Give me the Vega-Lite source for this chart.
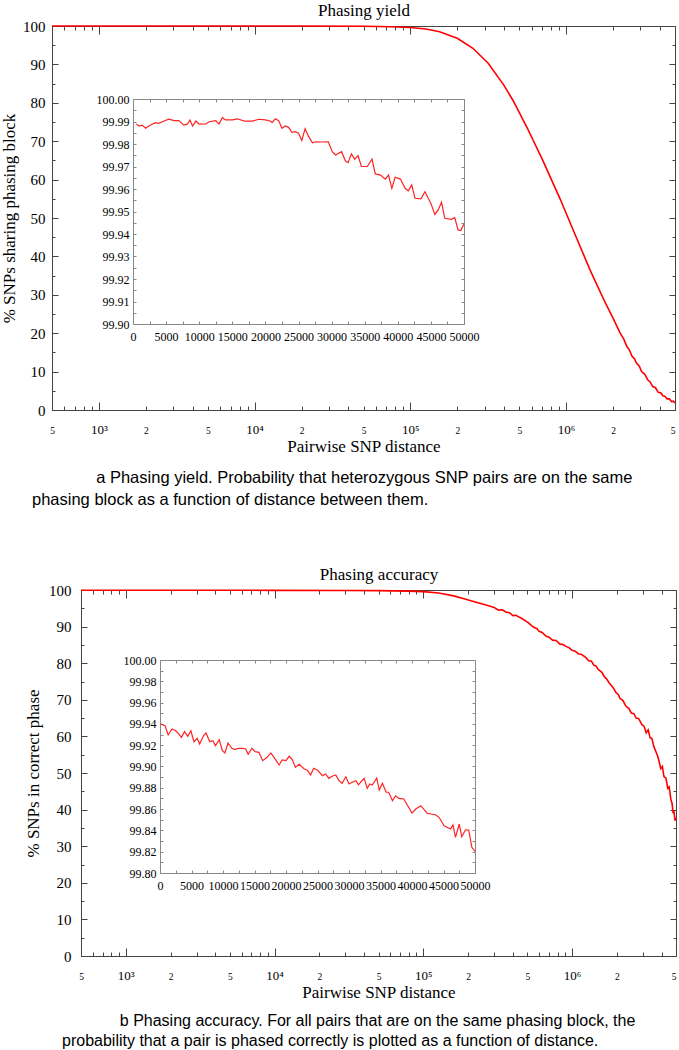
{
  "$schema": "https://vega.github.io/schema/vega-lite/v6.json",
  "background": "white",
  "padding": {"left": 0, "top": 1, "right": 0, "bottom": 0},
  "autosize": {"type": "pad"},
  "spacing": 56,
  "config": {
    "view": {"stroke": null},
    "axis": {"grid": false, "labelFont": "Liberation Serif", "titleFont": "Liberation Serif", "labelColor": "#000", "titleColor": "#000", "titleFontWeight": "normal", "labelFlush": false, "labelOverlap": false, "domainColor": "#444", "tickColor": "#444", "zindex": 0},
    "title": {"font": "Liberation Sans", "fontWeight": "normal", "color": "#000"}
  },
  "datasets": {
    "yieldMain": [
      {"distance": 500, "percent": 99.99}, {"distance": 700, "percent": 99.99}, {"distance": 1000, "percent": 99.99}, {"distance": 2000, "percent": 99.99}, {"distance": 5000, "percent": 99.99}, {"distance": 10000, "percent": 99.99}, {"distance": 20000, "percent": 99.985}, {"distance": 50000, "percent": 99.94}, {"distance": 75000, "percent": 99.8}, {"distance": 100000, "percent": 99.6}, {"distance": 126000, "percent": 99.2}, {"distance": 154000, "percent": 98.5}, {"distance": 200000, "percent": 96.8}, {"distance": 252000, "percent": 94.2}, {"distance": 316000, "percent": 90.3}, {"distance": 398000, "percent": 84.6}, {"distance": 456000, "percent": 80.6}, {"distance": 562000, "percent": 73.5}, {"distance": 708000, "percent": 65.0}, {"distance": 914000, "percent": 55.0}, {"distance": 1120000, "percent": 46.5}, {"distance": 1423000, "percent": 36.5}, {"distance": 1780000, "percent": 28.0}, {"distance": 2000000, "percent": 23.9}, {"distance": 2218000, "percent": 20.1}, {"distance": 2350000, "percent": 18.4}, {"distance": 2450000, "percent": 16.6}, {"distance": 2550000, "percent": 15.6}, {"distance": 2650000, "percent": 14.0}, {"distance": 2750000, "percent": 13.3}, {"distance": 2820000, "percent": 12.3}, {"distance": 2950000, "percent": 11.4}, {"distance": 3050000, "percent": 10.0}, {"distance": 3200000, "percent": 9.3}, {"distance": 3350000, "percent": 7.8}, {"distance": 3460000, "percent": 7.3}, {"distance": 3600000, "percent": 6.1}, {"distance": 3750000, "percent": 5.8}, {"distance": 3900000, "percent": 4.6}, {"distance": 4050000, "percent": 4.5}, {"distance": 4170000, "percent": 3.7}, {"distance": 4300000, "percent": 3.6}, {"distance": 4450000, "percent": 2.9}, {"distance": 4600000, "percent": 2.9}, {"distance": 4750000, "percent": 2.2}, {"distance": 4880000, "percent": 2.3}, {"distance": 5000000, "percent": 1.8}
    ],
    "yieldInset": [
      {"distance": 500, "percent": 99.9889}, {"distance": 900, "percent": 99.988}, {"distance": 1400, "percent": 99.9884}, {"distance": 1900, "percent": 99.987}, {"distance": 2400, "percent": 99.988}, {"distance": 2900, "percent": 99.9888}, {"distance": 3400, "percent": 99.9895}, {"distance": 3900, "percent": 99.9892}, {"distance": 4700, "percent": 99.9902}, {"distance": 5400, "percent": 99.991}, {"distance": 6200, "percent": 99.9904}, {"distance": 6900, "percent": 99.9904}, {"distance": 7700, "percent": 99.9884}, {"distance": 8200, "percent": 99.9888}, {"distance": 8600, "percent": 99.9907}, {"distance": 9000, "percent": 99.988}, {"distance": 9500, "percent": 99.9902}, {"distance": 10000, "percent": 99.9888}, {"distance": 11000, "percent": 99.9889}, {"distance": 11500, "percent": 99.9899}, {"distance": 12500, "percent": 99.9904}, {"distance": 13000, "percent": 99.9889}, {"distance": 13500, "percent": 99.9917}, {"distance": 14000, "percent": 99.9907}, {"distance": 15000, "percent": 99.9907}, {"distance": 15800, "percent": 99.9912}, {"distance": 16800, "percent": 99.9902}, {"distance": 18000, "percent": 99.9902}, {"distance": 19000, "percent": 99.991}, {"distance": 20000, "percent": 99.9907}, {"distance": 20800, "percent": 99.9901}, {"distance": 21000, "percent": 99.9895}, {"distance": 21500, "percent": 99.9912}, {"distance": 22000, "percent": 99.9904}, {"distance": 22500, "percent": 99.987}, {"distance": 23000, "percent": 99.988}, {"distance": 23500, "percent": 99.9874}, {"distance": 24000, "percent": 99.9852}, {"distance": 24500, "percent": 99.9855}, {"distance": 25000, "percent": 99.9848}, {"distance": 25500, "percent": 99.9816}, {"distance": 26000, "percent": 99.9868}, {"distance": 26500, "percent": 99.9835}, {"distance": 27100, "percent": 99.9805}, {"distance": 27600, "percent": 99.981}, {"distance": 28600, "percent": 99.9809}, {"distance": 29500, "percent": 99.981}, {"distance": 30100, "percent": 99.9766}, {"distance": 30600, "percent": 99.9751}, {"distance": 31500, "percent": 99.9766}, {"distance": 32100, "percent": 99.9724}, {"distance": 32500, "percent": 99.9717}, {"distance": 33000, "percent": 99.9756}, {"distance": 33500, "percent": 99.9732}, {"distance": 34000, "percent": 99.9748}, {"distance": 34500, "percent": 99.97}, {"distance": 35400, "percent": 99.97}, {"distance": 36100, "percent": 99.9733}, {"distance": 36600, "percent": 99.9667}, {"distance": 37400, "percent": 99.9662}, {"distance": 38100, "percent": 99.9644}, {"distance": 38600, "percent": 99.9662}, {"distance": 39100, "percent": 99.9603}, {"distance": 39600, "percent": 99.9652}, {"distance": 40400, "percent": 99.9644}, {"distance": 41100, "percent": 99.9603}, {"distance": 41600, "percent": 99.9592}, {"distance": 42100, "percent": 99.9618}, {"distance": 42600, "percent": 99.9559}, {"distance": 43500, "percent": 99.9556}, {"distance": 44100, "percent": 99.9588}, {"distance": 45000, "percent": 99.9536}, {"distance": 45600, "percent": 99.9487}, {"distance": 46100, "percent": 99.9507}, {"distance": 46600, "percent": 99.9541}, {"distance": 47100, "percent": 99.947}, {"distance": 48100, "percent": 99.9465}, {"distance": 48600, "percent": 99.9473}, {"distance": 49100, "percent": 99.9418}, {"distance": 49500, "percent": 99.9415}, {"distance": 50000, "percent": 99.9444}
    ],
    "accuracyMain": [
      {"distance": 500, "percent": 99.94}, {"distance": 1000, "percent": 99.94}, {"distance": 3000, "percent": 99.93}, {"distance": 10000, "percent": 99.91}, {"distance": 30000, "percent": 99.88}, {"distance": 50000, "percent": 99.82}, {"distance": 80000, "percent": 99.7}, {"distance": 100000, "percent": 99.55}, {"distance": 127000, "percent": 99.2}, {"distance": 160000, "percent": 98.4}, {"distance": 193000, "percent": 97.5}, {"distance": 230000, "percent": 96.6}, {"distance": 264000, "percent": 95.9}, {"distance": 300000, "percent": 95.2}, {"distance": 320000, "percent": 94.5}, {"distance": 340000, "percent": 94.6}, {"distance": 359000, "percent": 94.0}, {"distance": 380000, "percent": 93.8}, {"distance": 400000, "percent": 93.0}, {"distance": 420000, "percent": 93.1}, {"distance": 440000, "percent": 92.6}, {"distance": 460000, "percent": 92.2}, {"distance": 490000, "percent": 91.5}, {"distance": 510000, "percent": 91.0}, {"distance": 537000, "percent": 90.2}, {"distance": 560000, "percent": 89.7}, {"distance": 580000, "percent": 89.5}, {"distance": 600000, "percent": 88.7}, {"distance": 630000, "percent": 88.4}, {"distance": 667000, "percent": 87.4}, {"distance": 700000, "percent": 87.1}, {"distance": 740000, "percent": 86.3}, {"distance": 780000, "percent": 86.2}, {"distance": 830000, "percent": 85.2}, {"distance": 870000, "percent": 85.1}, {"distance": 910000, "percent": 84.6}, {"distance": 960000, "percent": 84.2}, {"distance": 1000000, "percent": 83.5}, {"distance": 1050000, "percent": 83.3}, {"distance": 1100000, "percent": 82.6}, {"distance": 1160000, "percent": 82.4}, {"distance": 1239000, "percent": 81.5}, {"distance": 1300000, "percent": 80.6}, {"distance": 1350000, "percent": 80.6}, {"distance": 1400000, "percent": 79.5}, {"distance": 1450000, "percent": 79.2}, {"distance": 1500000, "percent": 78.3}, {"distance": 1588000, "percent": 77.5}, {"distance": 1650000, "percent": 76.3}, {"distance": 1700000, "percent": 75.8}, {"distance": 1780000, "percent": 74.6}, {"distance": 1850000, "percent": 73.8}, {"distance": 1900000, "percent": 73.2}, {"distance": 1972000, "percent": 72.0}, {"distance": 2050000, "percent": 71.4}, {"distance": 2100000, "percent": 70.4}, {"distance": 2200000, "percent": 69.8}, {"distance": 2300000, "percent": 68.3}, {"distance": 2413000, "percent": 67.6}, {"distance": 2500000, "percent": 66.4}, {"distance": 2600000, "percent": 66.2}, {"distance": 2700000, "percent": 65.0}, {"distance": 2800000, "percent": 64.9}, {"distance": 2951000, "percent": 63.2}, {"distance": 3050000, "percent": 62.8}, {"distance": 3150000, "percent": 61.0}, {"distance": 3250000, "percent": 61.8}, {"distance": 3350000, "percent": 59.6}, {"distance": 3444000, "percent": 59.4}, {"distance": 3550000, "percent": 57.2}, {"distance": 3650000, "percent": 56.0}, {"distance": 3750000, "percent": 54.8}, {"distance": 3838000, "percent": 53.4}, {"distance": 3950000, "percent": 51.2}, {"distance": 4050000, "percent": 51.8}, {"distance": 4150000, "percent": 49.0}, {"distance": 4282000, "percent": 48.6}, {"distance": 4400000, "percent": 45.8}, {"distance": 4500000, "percent": 46.2}, {"distance": 4625000, "percent": 42.6}, {"distance": 4700000, "percent": 41.8}, {"distance": 4780000, "percent": 39.0}, {"distance": 4842000, "percent": 39.6}, {"distance": 4920000, "percent": 37.0}, {"distance": 5000000, "percent": 37.8}
    ],
    "accuracyInset": [
      {"distance": 100, "percent": 99.9399}, {"distance": 800, "percent": 99.9383}, {"distance": 1300, "percent": 99.9296}, {"distance": 1900, "percent": 99.9352}, {"distance": 2500, "percent": 99.9336}, {"distance": 3000, "percent": 99.9305}, {"distance": 3400, "percent": 99.9274}, {"distance": 3900, "percent": 99.9327}, {"distance": 4400, "percent": 99.9283}, {"distance": 4900, "percent": 99.9336}, {"distance": 5400, "percent": 99.9233}, {"distance": 5900, "percent": 99.9265}, {"distance": 6300, "percent": 99.9211}, {"distance": 6900, "percent": 99.9289}, {"distance": 7300, "percent": 99.9315}, {"distance": 7900, "percent": 99.9233}, {"distance": 8400, "percent": 99.9242}, {"distance": 8800, "percent": 99.9195}, {"distance": 9400, "percent": 99.9252}, {"distance": 9900, "percent": 99.9148}, {"distance": 10300, "percent": 99.9127}, {"distance": 10800, "percent": 99.9221}, {"distance": 11400, "percent": 99.9171}, {"distance": 11900, "percent": 99.9158}, {"distance": 12400, "percent": 99.9171}, {"distance": 13100, "percent": 99.9171}, {"distance": 13600, "percent": 99.9164}, {"distance": 14000, "percent": 99.9115}, {"distance": 14600, "percent": 99.9171}, {"distance": 15100, "percent": 99.9139}, {"distance": 15700, "percent": 99.9133}, {"distance": 16300, "percent": 99.9055}, {"distance": 17000, "percent": 99.9086}, {"distance": 17600, "percent": 99.9127}, {"distance": 18100, "percent": 99.9086}, {"distance": 18900, "percent": 99.9014}, {"distance": 19400, "percent": 99.9061}, {"distance": 20000, "percent": 99.9055}, {"distance": 20500, "percent": 99.9096}, {"distance": 21000, "percent": 99.9064}, {"distance": 21500, "percent": 99.8992}, {"distance": 22100, "percent": 99.902}, {"distance": 22900, "percent": 99.8977}, {"distance": 23400, "percent": 99.8965}, {"distance": 23900, "percent": 99.892}, {"distance": 24400, "percent": 99.8983}, {"distance": 25000, "percent": 99.8965}, {"distance": 25800, "percent": 99.8914}, {"distance": 26300, "percent": 99.893}, {"distance": 26800, "percent": 99.8889}, {"distance": 27300, "percent": 99.8908}, {"distance": 27900, "percent": 99.892}, {"distance": 28400, "percent": 99.8867}, {"distance": 28900, "percent": 99.8842}, {"distance": 29500, "percent": 99.8904}, {"distance": 30000, "percent": 99.8836}, {"distance": 30500, "percent": 99.8852}, {"distance": 31100, "percent": 99.8867}, {"distance": 31500, "percent": 99.8829}, {"distance": 32400, "percent": 99.8889}, {"distance": 32900, "percent": 99.8795}, {"distance": 33300, "percent": 99.8836}, {"distance": 33700, "percent": 99.8826}, {"distance": 34400, "percent": 99.8892}, {"distance": 34800, "percent": 99.8779}, {"distance": 35300, "percent": 99.8842}, {"distance": 35900, "percent": 99.8758}, {"distance": 36300, "percent": 99.8758}, {"distance": 36900, "percent": 99.8679}, {"distance": 37400, "percent": 99.8725}, {"distance": 37900, "percent": 99.8701}, {"distance": 38700, "percent": 99.8695}, {"distance": 40000, "percent": 99.8563}, {"distance": 40600, "percent": 99.8601}, {"distance": 41400, "percent": 99.8632}, {"distance": 42400, "percent": 99.8561}, {"distance": 43700, "percent": 99.8547}, {"distance": 44300, "percent": 99.8523}, {"distance": 45100, "percent": 99.8444}, {"distance": 46100, "percent": 99.8413}, {"distance": 46500, "percent": 99.8451}, {"distance": 46900, "percent": 99.8335}, {"distance": 47500, "percent": 99.846}, {"distance": 47900, "percent": 99.834}, {"distance": 48500, "percent": 99.8406}, {"distance": 49000, "percent": 99.8404}, {"distance": 49500, "percent": 99.8241}, {"distance": 50000, "percent": 99.8204}
    ]
  },
  "vconcat": [
    {
      "width": 623,
      "height": 384,
      "title": {"text": ["\u200b\u00a0\u00a0\u00a0\u00a0\u00a0\u00a0\u00a0\u00a0\u00a0\u00a0\u00a0\u00a0\u00a0\u00a0a Phasing yield. Probability that heterozygous SNP pairs are on the same", "phasing block as a function of distance between them."], "orient": "bottom", "anchor": "start", "frame": "group", "dx": -20, "fontSize": 16.5, "lineHeight": 22, "offset": 16},
      "resolve": {"scale": {"x": "independent", "y": "independent"}},
      "layer": [
        {
          "data": {"name": "yieldMain"},
          "mark": {"type": "line", "color": "#ff0000", "strokeWidth": 1.6},
          "encoding": {
            "x": {"field": "distance", "type": "quantitative", "scale": {"type": "log", "domain": [500, 5000000], "nice": false},
              "axis": {"orient": "bottom", "values": [500,600,700,800,900,1000,2000,3000,4000,5000,6000,7000,8000,9000,10000,20000,30000,40000,50000,60000,70000,80000,90000,100000,200000,300000,400000,500000,600000,700000,800000,900000,1000000,2000000,3000000,4000000,5000000],
                "labelExpr": "datum.value==1000?'10³':datum.value==10000?'10⁴':datum.value==100000?'10⁵':datum.value==1000000?'10⁶':indexof([500,5000,50000,500000,5000000],datum.value)>=0?'5':indexof([2000,20000,200000,2000000],datum.value)>=0?'2':''",
                "labelBaseline": "alphabetic",
                "labelAlign": {"condition": {"test": "datum.value==5000000", "value": "right"}, "value": "center"},
                "labelFontSize": {"condition": {"test": "datum.value==1000||datum.value==10000||datum.value==100000||datum.value==1000000", "value": 13}, "value": 9.5},
                "tickSize": {"condition": {"test": "datum.value==1000||datum.value==10000||datum.value==100000||datum.value==1000000", "value": -8}, "value": -4},
                "labelPadding": {"condition": {"test": "datum.value==1000||datum.value==10000||datum.value==100000||datum.value==1000000", "value": 31}, "value": 27},
                "title": "Pairwise SNP distance", "titleFontSize": 17, "titlePadding": 2}},
            "y": {"field": "percent", "type": "quantitative", "scale": {"domain": [0, 100], "nice": false, "zero": false},
              "axis": {"orient": "left", "values": [0,5,10,15,20,25,30,35,40,45,50,55,60,65,70,75,80,85,90,95,100],
                "labelExpr": "datum.value%10==0?format(datum.value,'d'):''", "labelFontSize": 15,
                "tickSize": {"condition": {"test": "datum.value%10==0", "value": -6}, "value": -3},
                "labelPadding": 13, "title": "% SNPs sharing phasing block", "titleFontSize": 17, "titlePadding": 4}}
          }
        },
        {
          "data": {"name": "yieldMain"},
          "mark": {"type": "line", "strokeOpacity": 0},
          "encoding": {
            "x": {"field": "distance", "type": "quantitative", "scale": {"type": "log", "domain": [500, 5000000], "nice": false},
              "axis": {"orient": "top", "values": [500,600,700,800,900,1000,2000,3000,4000,5000,6000,7000,8000,9000,10000,20000,30000,40000,50000,60000,70000,80000,90000,100000,200000,300000,400000,500000,600000,700000,800000,900000,1000000,2000000,3000000,4000000,5000000],
                "labels": false,
                "tickSize": {"condition": {"test": "datum.value==1000||datum.value==10000||datum.value==100000||datum.value==1000000", "value": -8}, "value": -4},
                "title": "Phasing yield", "titleFontSize": 17, "titlePadding": 6}},
            "y": {"field": "percent", "type": "quantitative", "scale": {"domain": [0, 100], "nice": false, "zero": false},
              "axis": {"orient": "right", "values": [0,5,10,15,20,25,30,35,40,45,50,55,60,65,70,75,80,85,90,95,100], "labels": false,
                "tickSize": {"condition": {"test": "datum.value%10==0", "value": -6}, "value": -3}, "title": null}}
          }
        },
        {
          "data": {"name": "yieldInset"},
          "mark": {"type": "line", "color": "#ff2222", "strokeWidth": 1.2},
          "encoding": {
            "x": {"field": "distance", "type": "quantitative", "scale": {"domain": [0, 50000], "range": [81, 412], "nice": false, "zero": false},
              "axis": {"orient": "bottom", "offset": -86, "values": [0,2500,5000,7500,10000,12500,15000,17500,20000,22500,25000,27500,30000,32500,35000,37500,40000,42500,45000,47500,50000],
                "labelExpr": "datum.value%5000==0?format(datum.value,'d'):''", "labelFontSize": 12, "tickSize": -3, "labelPadding": 10, "title": null, "domainColor": "#888", "tickColor": "#888"}},
            "y": {"field": "percent", "type": "quantitative", "scale": {"domain": [99.9, 100], "range": [298, 73], "nice": false, "zero": false},
              "axis": {"orient": "left", "offset": -81, "values": [99.9,99.905,99.91,99.915,99.92,99.925,99.93,99.935,99.94,99.945,99.95,99.955,99.96,99.965,99.97,99.975,99.98,99.985,99.99,99.995,100],
                "labelExpr": "abs(datum.value*100-round(datum.value*100))<0.01?format(datum.value,'.2f'):''", "labelFontSize": 12, "tickSize": -3, "labelPadding": 7, "title": null, "domainColor": "#888", "tickColor": "#888"}}
          }
        },
        {
          "data": {"name": "yieldInset"},
          "mark": {"type": "line", "strokeOpacity": 0},
          "encoding": {
            "x": {"field": "distance", "type": "quantitative", "scale": {"domain": [0, 50000], "range": [81, 412], "nice": false, "zero": false},
              "axis": {"orient": "top", "offset": -73, "values": [0,2500,5000,7500,10000,12500,15000,17500,20000,22500,25000,27500,30000,32500,35000,37500,40000,42500,45000,47500,50000],
                "labels": false, "tickSize": -3, "title": null, "domainColor": "#888", "tickColor": "#888"}},
            "y": {"field": "percent", "type": "quantitative", "scale": {"domain": [99.9, 100], "range": [298, 73], "nice": false, "zero": false},
              "axis": {"orient": "right", "offset": -211, "values": [99.9,99.905,99.91,99.915,99.92,99.925,99.93,99.935,99.94,99.945,99.95,99.955,99.96,99.965,99.97,99.975,99.98,99.985,99.99,99.995,100],
                "labels": false, "tickSize": -3, "title": null, "domainColor": "#888", "tickColor": "#888"}}
          }
        }
      ]
    },
    {
      "width": 624,
      "height": 366,
      "title": {"text": ["\u200b\u00a0\u00a0\u00a0\u00a0\u00a0\u00a0\u00a0\u00a0\u00a0\u00a0\u00a0\u00a0\u00a0b Phasing accuracy. For all pairs that are on the same phasing block, the", "probability that a pair is phased correctly is plotted as a function of distance."], "orient": "bottom", "anchor": "start", "frame": "group", "dx": 10, "fontSize": 16, "lineHeight": 19.5, "offset": 13},
      "resolve": {"scale": {"x": "independent", "y": "independent"}},
      "layer": [
        {
          "data": {"name": "accuracyMain"},
          "mark": {"type": "line", "color": "#ff0000", "strokeWidth": 1.6},
          "encoding": {
            "x": {"field": "distance", "type": "quantitative", "scale": {"type": "log", "domain": [500, 5000000], "range": [29, 624], "nice": false},
              "axis": {"orient": "bottom", "values": [500,600,700,800,900,1000,2000,3000,4000,5000,6000,7000,8000,9000,10000,20000,30000,40000,50000,60000,70000,80000,90000,100000,200000,300000,400000,500000,600000,700000,800000,900000,1000000,2000000,3000000,4000000,5000000],
                "labelExpr": "datum.value==1000?'10³':datum.value==10000?'10⁴':datum.value==100000?'10⁵':datum.value==1000000?'10⁶':indexof([500,5000,50000,500000,5000000],datum.value)>=0?'5':indexof([2000,20000,200000,2000000],datum.value)>=0?'2':''",
                "labelBaseline": "alphabetic",
                "labelAlign": {"condition": {"test": "datum.value==5000000", "value": "right"}, "value": "center"},
                "labelFontSize": {"condition": {"test": "datum.value==1000||datum.value==10000||datum.value==100000||datum.value==1000000", "value": 13}, "value": 9.5},
                "tickSize": {"condition": {"test": "datum.value==1000||datum.value==10000||datum.value==100000||datum.value==1000000", "value": -8}, "value": -4},
                "labelPadding": {"condition": {"test": "datum.value==1000||datum.value==10000||datum.value==100000||datum.value==1000000", "value": 31}, "value": 27},
                "title": "Pairwise SNP distance", "titleFontSize": 17, "titlePadding": 2}},
            "y": {"field": "percent", "type": "quantitative", "scale": {"domain": [0, 100], "nice": false, "zero": false},
              "axis": {"orient": "left", "offset": -29, "values": [0,5,10,15,20,25,30,35,40,45,50,55,60,65,70,75,80,85,90,95,100],
                "labelExpr": "datum.value%10==0?format(datum.value,'d'):''", "labelFontSize": 15,
                "tickSize": {"condition": {"test": "datum.value%10==0", "value": -6}, "value": -3},
                "labelPadding": 16, "title": "% SNPs in correct phase", "titleFontSize": 17, "titlePadding": 6}}
          }
        },
        {
          "data": {"name": "accuracyMain"},
          "mark": {"type": "line", "strokeOpacity": 0},
          "encoding": {
            "x": {"field": "distance", "type": "quantitative", "scale": {"type": "log", "domain": [500, 5000000], "range": [29, 624], "nice": false},
              "axis": {"orient": "top", "values": [500,600,700,800,900,1000,2000,3000,4000,5000,6000,7000,8000,9000,10000,20000,30000,40000,50000,60000,70000,80000,90000,100000,200000,300000,400000,500000,600000,700000,800000,900000,1000000,2000000,3000000,4000000,5000000],
                "labels": false,
                "tickSize": {"condition": {"test": "datum.value==1000||datum.value==10000||datum.value==100000||datum.value==1000000", "value": -8}, "value": -4},
                "title": "Phasing accuracy", "titleFontSize": 17, "titlePadding": 6}},
            "y": {"field": "percent", "type": "quantitative", "scale": {"domain": [0, 100], "nice": false, "zero": false},
              "axis": {"orient": "right", "values": [0,5,10,15,20,25,30,35,40,45,50,55,60,65,70,75,80,85,90,95,100], "labels": false,
                "tickSize": {"condition": {"test": "datum.value%10==0", "value": -6}, "value": -3}, "title": null}}
          }
        },
        {
          "data": {"name": "accuracyInset"},
          "mark": {"type": "line", "color": "#ff2222", "strokeWidth": 1.2},
          "encoding": {
            "x": {"field": "distance", "type": "quantitative", "scale": {"domain": [0, 50000], "range": [108, 423], "nice": false, "zero": false},
              "axis": {"orient": "bottom", "offset": -83, "values": [0,2500,5000,7500,10000,12500,15000,17500,20000,22500,25000,27500,30000,32500,35000,37500,40000,42500,45000,47500,50000],
                "labelExpr": "datum.value%5000==0?format(datum.value,'d'):''", "labelFontSize": 12, "tickSize": -3, "labelPadding": 10, "title": null, "domainColor": "#888", "tickColor": "#888"}},
            "y": {"field": "percent", "type": "quantitative", "scale": {"domain": [99.8, 100], "range": [283, 70], "nice": false, "zero": false},
              "axis": {"orient": "left", "offset": -108, "values": [99.8,99.81,99.82,99.83,99.84,99.85,99.86,99.87,99.88,99.89,99.9,99.91,99.92,99.93,99.94,99.95,99.96,99.97,99.98,99.99,100],
                "labelExpr": "abs(datum.value*50-round(datum.value*50))<0.01?format(datum.value,'.2f'):''", "labelFontSize": 12, "tickSize": -3, "labelPadding": 7, "title": null, "domainColor": "#888", "tickColor": "#888"}}
          }
        },
        {
          "data": {"name": "accuracyInset"},
          "mark": {"type": "line", "strokeOpacity": 0},
          "encoding": {
            "x": {"field": "distance", "type": "quantitative", "scale": {"domain": [0, 50000], "range": [108, 423], "nice": false, "zero": false},
              "axis": {"orient": "top", "offset": -70, "values": [0,2500,5000,7500,10000,12500,15000,17500,20000,22500,25000,27500,30000,32500,35000,37500,40000,42500,45000,47500,50000],
                "labels": false, "tickSize": -3, "title": null, "domainColor": "#888", "tickColor": "#888"}},
            "y": {"field": "percent", "type": "quantitative", "scale": {"domain": [99.8, 100], "range": [283, 70], "nice": false, "zero": false},
              "axis": {"orient": "right", "offset": -201, "values": [99.8,99.81,99.82,99.83,99.84,99.85,99.86,99.87,99.88,99.89,99.9,99.91,99.92,99.93,99.94,99.95,99.96,99.97,99.98,99.99,100],
                "labels": false, "tickSize": -3, "title": null, "domainColor": "#888", "tickColor": "#888"}}
          }
        }
      ]
    }
  ]
}
